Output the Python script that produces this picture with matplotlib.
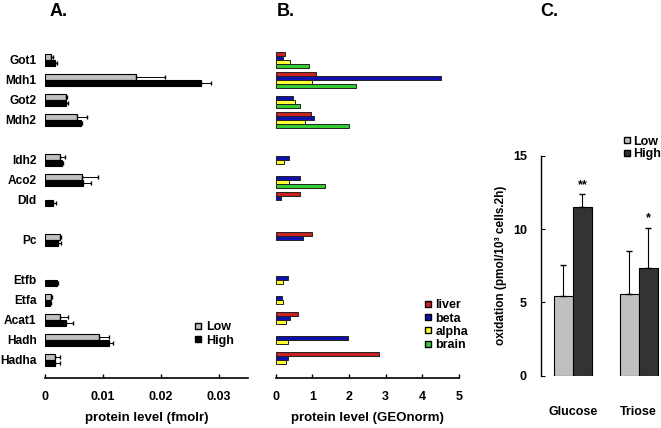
import matplotlib
matplotlib.use('Agg')
import matplotlib.pyplot as plt
import numpy as np
from matplotlib.lines import Line2D

plt.rcParams['font.family'] = ['Liberation Sans', 'DejaVu Sans']
plt.rcParams['font.weight'] = 'bold'
plt.rcParams['axes.labelweight'] = 'bold'
plt.rcParams['font.size'] = 9

# ---- data ----
genes = ['Got1', 'Mdh1', 'Got2', 'Mdh2', 'Idh2', 'Aco2', 'Dld', 'Pc',
         'Etfb', 'Etfa', 'Acat1', 'Hadh', 'Hadha']
gene_pos = [0, 1, 2, 3, 5, 6, 7, 9, 11, 12, 13, 14, 15]

# panel A (fmolr)
low_vals = [0.0010, 0.0157, 0.0036, 0.0056, 0.0026, 0.0063, np.nan, 0.0025,
            np.nan, 0.0010, 0.0026, 0.0093, 0.0018]
low_err = [0.0003, 0.0050, 0.0002, 0.0016, 0.0009, 0.0028, 0, 0.0003,
           0, 0.0002, 0.0014, 0.0018, 0.0007]
high_vals = [0.0017, 0.0269, 0.0037, 0.0062, 0.0029, 0.0065, 0.0014, 0.0023,
             0.0021, 0.0009, 0.0036, 0.0110, 0.0018]
high_err = [0.0004, 0.0018, 0.0003, 0.0002, 0.0002, 0.0014, 0.0005, 0.0004,
            0.0001, 0.0002, 0.0012, 0.0008, 0.0008]

# panel B (GEOnorm)
tissues = ['liver', 'beta', 'alpha', 'brain']
liver = [0.25, 1.10, np.nan, 0.95, np.nan, np.nan, 0.66, 0.99, np.nan, np.nan, 0.60, np.nan, 2.81]
beta = [0.19, 4.50, 0.46, 1.05, 0.35, 0.67, 0.15, 0.74, 0.34, 0.18, 0.38, 1.96, 0.33]
alpha = [0.39, 0.98, 0.54, 0.80, 0.22, 0.37, np.nan, np.nan, 0.19, 0.21, 0.27, 0.34, 0.27]
brain = [0.91, 2.20, 0.66, 2.00, np.nan, 1.35, np.nan, np.nan, np.nan, np.nan, np.nan, np.nan, np.nan]

# panel C
substrates = ['Glucose', 'Triose']
ox_low = [5.45, 5.6]
ox_low_err = [2.1, 2.9]
ox_high = [11.5, 7.35]
ox_high_err = [0.9, 2.75]
stars = ['**', '*']

W, H = 661, 428
fig = plt.figure(figsize=(W / 100, H / 100), dpi=100)


def px_axes(left, top, right, bottom):
    return fig.add_axes([left / W, 1 - bottom / H, (right - left) / W, (bottom - top) / H])


def style_hbar_axes(ax, xmax, ticks, ticklabels):
    for s in ['top', 'right', 'left']:
        ax.spines[s].set_visible(False)
    ax.spines['bottom'].set_linewidth(1.2)
    ax.set_xlim(0, xmax)
    ax.set_ylim(15.9, -0.75)
    ax.set_xticks(ticks)
    ax.set_xticklabels(ticklabels)
    ax.tick_params(axis='x', direction='in', length=3, width=1, pad=9)


y = np.array(gene_pos, dtype=float)

# ---- A ----
axA = px_axes(45, 45, 248, 378)
hb = 0.3
axA.barh(y - hb / 2, low_vals, height=hb, color='#c0c0c0', edgecolor='black', linewidth=0.8,
         xerr=[np.zeros(len(low_err)), low_err], error_kw=dict(ecolor='black', elinewidth=0.7, capsize=1.5))
axA.barh(y + hb / 2, high_vals, height=hb, color='black', edgecolor='black', linewidth=0.8,
         xerr=[np.zeros(len(high_err)), high_err], error_kw=dict(ecolor='black', elinewidth=0.7, capsize=1.5))
style_hbar_axes(axA, 0.035, [0, 0.01, 0.02, 0.03], ['0', '0.01', '0.02', '0.03'])
axA.set_yticks(y)
axA.set_yticklabels(genes, fontsize=8.6)
axA.tick_params(axis='y', length=0, pad=6)
axA.set_xlabel('protein level (fmolr)', fontsize=9.5, labelpad=7)
handlesA = [Line2D([], [], marker='s', ls='', markersize=5, markerfacecolor='#c0c0c0', markeredgecolor='black'),
            Line2D([], [], marker='s', ls='', markersize=5, markerfacecolor='black', markeredgecolor='black')]
axA.legend(handlesA, ['Low', 'High'], loc='upper left', bbox_to_anchor=(0.7, 0.19),
           frameon=False, handletextpad=0.2, labelspacing=0.15, fontsize=9, handlelength=0.8, borderpad=0)
fig.text(50 / W, 1 - 12 / H, 'A.', fontsize=13, fontweight='bold', va='center')

# ---- B ----
axB = px_axes(275.7, 45, 459, 378)
tb = 0.19
b_colors = ['#cc1f1f', '#1010b0', '#ffff33', '#33cc33']
for i, (vals, c) in enumerate(zip([liver, beta, alpha, brain], b_colors)):
    axB.barh(y + (i - 1.5) * tb, vals, height=tb, color=c, edgecolor='#222222', linewidth=0.7)
style_hbar_axes(axB, 5.0, [0, 1, 2, 3, 4, 5], ['0', '1', '2', '3', '4', '5'])
axB.set_yticks([])
axB.set_xlabel('protein level (GEOnorm)', fontsize=9.5, labelpad=7)
handlesB = [Line2D([], [], marker='s', ls='', markersize=5, markerfacecolor=c, markeredgecolor='black')
            for c in b_colors]
axB.legend(handlesB, tissues, loc='upper left', bbox_to_anchor=(0.77, 0.255),
           frameon=False, handletextpad=0.2, labelspacing=0.1, fontsize=9, handlelength=0.8, borderpad=0)
fig.text(277 / W, 1 - 12 / H, 'B.', fontsize=13, fontweight='bold', va='center')

# ---- C ----
axC = px_axes(540.7, 155.7, 659, 375.7)
x = np.arange(len(substrates))
bw = 0.29
axC.bar(x - bw / 2, ox_low, width=bw, color='#c0c0c0', edgecolor='black', linewidth=0.8,
        yerr=[np.zeros(2), ox_low_err], error_kw=dict(ecolor='black', elinewidth=0.8, capsize=2))
axC.bar(x + bw / 2, ox_high, width=bw, color='#333333', edgecolor='black', linewidth=0.8,
        yerr=[np.zeros(2), ox_high_err], error_kw=dict(ecolor='black', elinewidth=0.8, capsize=2))
for xi, h, e, s in zip(x, ox_high, ox_high_err, stars):
    axC.text(xi + bw / 2, h + e + 0.2, s, ha='center', va='bottom', fontsize=9)
axC.set_xlim(-0.49, 1.31)
axC.set_ylim(0, 15)
axC.set_yticks([0, 5, 10, 15])
for s in ['top', 'right', 'bottom']:
    axC.spines[s].set_visible(False)
axC.spines['left'].set_linewidth(1)
axC.tick_params(axis='y', direction='in', length=3, pad=10)
axC.set_xticks(x)
axC.set_xticklabels(substrates)
axC.tick_params(axis='x', length=0, pad=22)
axC.set_ylabel('oxidation (pmol/10³ cells.2h)', fontsize=8.5, labelpad=4)
handlesC = [Line2D([], [], marker='s', ls='', markersize=5, markerfacecolor='#c0c0c0', markeredgecolor='black'),
            Line2D([], [], marker='s', ls='', markersize=5, markerfacecolor='#333333', markeredgecolor='black')]
axC.legend(handlesC, ['Low', 'High'], loc='upper left', bbox_to_anchor=(0.64, 1.12),
           frameon=False, handletextpad=0.15, labelspacing=0.05, fontsize=9, handlelength=0.7, borderpad=0)
fig.text(540 / W, 1 - 12 / H, 'C.', fontsize=13, fontweight='bold', va='center')

fig.savefig('out.png', dpi=100, facecolor='white')
